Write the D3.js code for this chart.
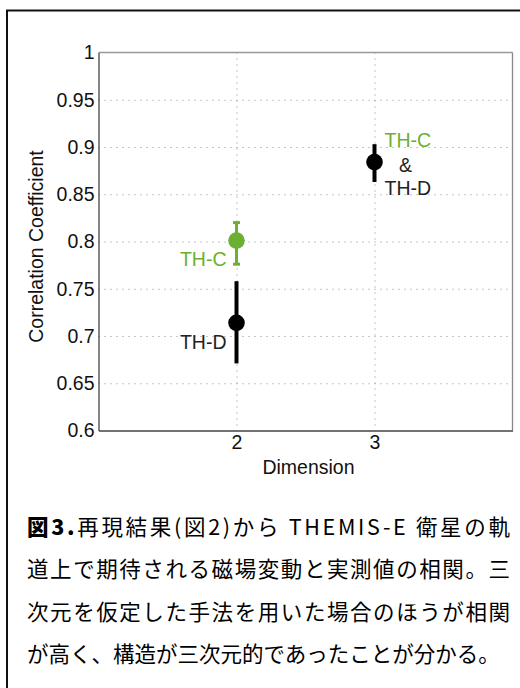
<!DOCTYPE html>
<html>
<head>
<meta charset="utf-8">
<script src="https://cdn.jsdelivr.net/npm/d3@7"></script>
<style>
  body { margin: 0; background: #fff; }
  svg { display: block; }
  .tick text { font-family: "Liberation Sans", Arial, sans-serif; }
</style>
</head>
<body>
<div class="chart"></div>
<script>
// values
var dimensions = [2, 2, 3]
var seriesNames = ['TH-C', 'TH-D', 'TH-C&D']
var corrValues = [0.801, 0.714, 0.884]
var errLow = [0.776, 0.671, 0.863]
var errHigh = [0.820, 0.758, 0.903]
var pointColors = ['#6cb033', '#000000', '#000000']
var yTickValues = [0.6, 0.65, 0.7, 0.75, 0.8, 0.85, 0.9, 0.95, 1]
var yTickLabels = ['0.6', '0.65', '0.7', '0.75', '0.8', '0.85', '0.9', '0.95', '1']
var xTickValues = [2, 3]
var captionLines = [
  '再現結果(図2)から THEMIS-E 衛星の軌',
  '道上で期待される磁場変動と実測値の相関。三',
  '次元を仮定した手法を用いた場合のほうが相関',
  'が高く、構造が三次元的であったことが分かる。'
]

var W = 520, H = 688
var green = '#6cb033'
var font = '"Liberation Sans", Arial, Helvetica, sans-serif'
var fs = '19.5px'

var svg = d3.select('.chart').append('svg')
  .attr('width', W)
  .attr('height', H)

// outer frame
svg.append('rect')
  .attr('x', 7).attr('y', 10.5)
  .attr('width', 540).attr('height', 700)
  .style('fill', 'none')
  .style('stroke', '#111')
  .style('stroke-width', 2)

var plotL = 98.5, plotR = 512.5, plotT = 52.5, plotB = 430.5
var x = d3.scaleLinear().domain([1, 4]).range([plotL, plotR])
var y = d3.scaleLinear().domain([0.6, 1]).range([plotB, plotT])

//grid lines
var grid = svg.append('g')
grid.append('g')
  .attr('transform', 'translate(' + plotL + ',0)')
  .call(d3.axisLeft(y).tickValues(yTickValues.slice(1, -1)).tickSize(-(plotR - plotL)).tickFormat(''))
grid.append('g')
  .attr('transform', 'translate(0,' + plotT + ')')
  .call(d3.axisBottom(x).tickValues(xTickValues).tickSize(plotB - plotT).tickFormat(''))
grid.selectAll('.domain').remove()
grid.selectAll('.tick line')
  .style('stroke', '#8c8c8c')
  .style('stroke-width', 1)
  .style('stroke-dasharray', '1,5')

// box
svg.append('line')
  .attr('x1', plotL).attr('x2', plotR).attr('y1', plotT).attr('y2', plotT)
  .style('stroke', '#999').style('stroke-width', 1.3)
svg.append('line')
  .attr('x1', plotR).attr('x2', plotR).attr('y1', plotT).attr('y2', plotB)
  .style('stroke', '#888').style('stroke-width', 1.3)

// axes
svg.append('g')
  .attr('transform', 'translate(' + plotL + ',0)')
  .call(d3.axisLeft(y).tickValues(yTickValues).tickSize(0).tickPadding(4)
    .tickFormat(function(d, i) { return yTickLabels[i] }))
svg.append('g')
  .attr('transform', 'translate(0,' + plotB + ')')
  .call(d3.axisBottom(x).tickValues(xTickValues).tickSize(0).tickPadding(5)
    .tickFormat(d3.format('d')))
svg.selectAll('.domain').style('stroke', '#444').style('stroke-width', 1.3)
svg.selectAll('.tick text')
  .style('font-size', fs)
  .style('fill', '#111')

svg.append('text')
  .attr('transform', 'translate(43,' + (plotT + plotB) / 2 + ') rotate(-90)')
  .attr('dx', -5)
  .style('text-anchor', 'middle')
  .style('font-family', font)
  .style('font-size', fs)
  .style('fill', '#111')
  .text('Correlation Coefficient')
svg.append('text')
  .attr('x', (plotL + plotR) / 2 + 3)
  .attr('y', 474)
  .style('text-anchor', 'middle')
  .style('font-family', font)
  .style('font-size', fs)
  .style('fill', '#111')
  .text('Dimension')

// error bars + markers
var pts = svg.append('g')
dimensions.forEach(function(d, i) {
  var isGreen = pointColors[i] === green
  pts.append('line')
    .attr('x1', x(d)).attr('x2', x(d))
    .attr('y1', y(errLow[i])).attr('y2', y(errHigh[i]))
    .style('stroke', pointColors[i])
    .style('stroke-width', isGreen ? 3 : 4)
  if (isGreen) {
    [errLow[i], errHigh[i]].forEach(function(v) {
      pts.append('line')
        .attr('x1', x(d) - 3.5).attr('x2', x(d) + 3.5)
        .attr('y1', y(v)).attr('y2', y(v))
        .style('stroke', pointColors[i])
        .style('stroke-width', 3)
    })
  }
  pts.append('circle')
    .attr('cx', x(d)).attr('cy', y(corrValues[i]))
    .attr('r', 8.3)
    .style('fill', pointColors[i])
})

// point labels
function label(px, py, txt, col, anchor) {
  svg.append('text')
    .attr('x', px).attr('y', py)
    .style('text-anchor', anchor)
    .style('font-family', font)
    .style('font-size', fs)
    .style('fill', col)
    .text(txt)
}
label(x(dimensions[0]) - 10, y(corrValues[0]) + 25, seriesNames[0], green, 'end')
label(x(dimensions[1]) - 10, y(corrValues[1]) + 26, seriesNames[1], '#222', 'end')
label(x(dimensions[2]) + 10, y(corrValues[2]) - 15, 'TH-C', green, 'start')
label(x(dimensions[2]) + 31, y(corrValues[2]) + 10, '&', '#222', 'middle')
label(x(dimensions[2]) + 10, y(corrValues[2]) + 33, 'TH-D', '#222', 'start')

// caption
var cap = svg.append('g')
  .style('font-family', '"Noto Sans CJK JP", sans-serif')
  .style('font-size', '21.5px')
  .style('fill', '#000')
var baselines = [535, 577, 620, 662]
captionLines.forEach(function(line, i) {
  var t = cap.append('text')
    .attr('x', 27)
    .attr('y', baselines[i])
  if (i < 3) t.attr('textLength', 483).attr('lengthAdjust', 'spacing')
  if (i === 0) {
    t.append('tspan').style('font-weight', 900).text('図3.')
    t.append('tspan').text(line)
  } else {
    t.text(line)
  }
})
</script>
</body>
</html>
